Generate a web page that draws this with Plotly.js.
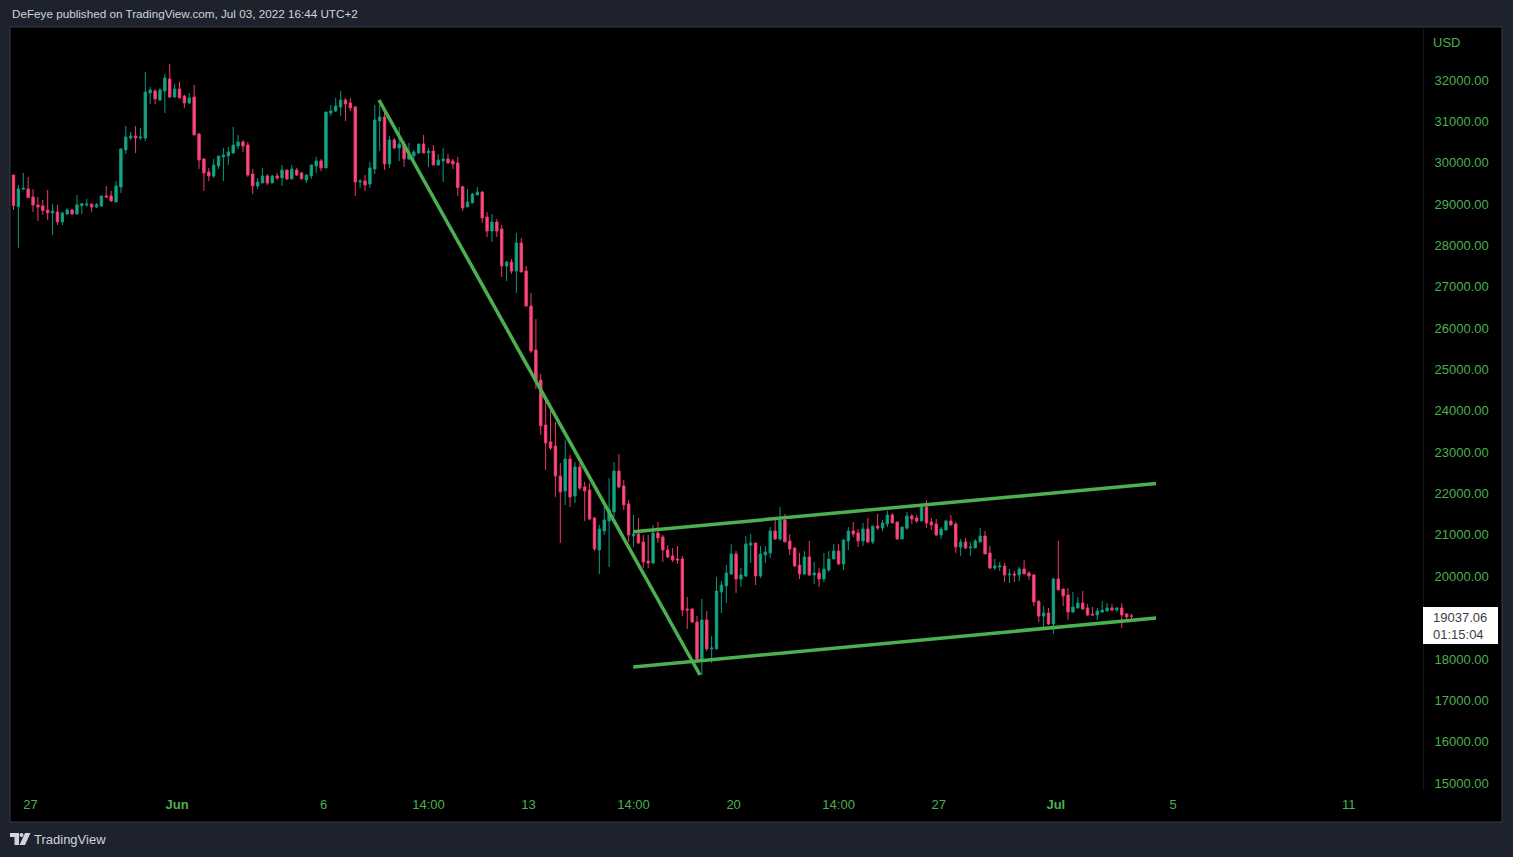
<!DOCTYPE html>
<html>
<head>
<meta charset="utf-8">
<script src="https://cdn.plot.ly/plotly-3.0.1.min.js"></script>
<style>
  html, body { margin: 0; padding: 0; background: #1e222d; }
  #chart { width: 1513px; height: 857px; }
</style>
</head>
<body>
<div id="chart"></div>
<script>
// ---------------- DATA ----------------
// BTCUSD, 4h candles (local time UTC+2), first candle May 26 10:00
const candleStart = '2022-05-26T10:00:00Z';
const candleHours = 4;

const open = [
29703,28938,29357,29365,29171,28978,28954,28857,28785,28809,28567,28760,28857,28760,28962,28978,29002,28930,28954,29196,
29196,29050,29413,30308,30598,30646,30598,30598,31686,31734,31517,31734,32025,31589,31783,31613,31444,31589,30694,30090,
29776,29679,29921,30139,30163,30235,30404,30501,30428,29727,29437,29510,29679,29510,29679,29631,29824,29607,29824,29752,
29582,29679,29921,30042,29873,31202,31250,31347,31517,31444,31347,29534,29558,29485,29848,31009,31105,29969,30549,30356,
30452,30090,30162,30235,30452,30235,30283,29945,30041,30090,30041,29993,29420,28929,29026,29219,29291,28687,28348,28566,
28397,27502,27599,27381,28058,27381,26535,25471,24746,23658,23247,23150,22425,22062,22836,21941,22642,22159,22086,21409,
20635,21095,21337,21554,22546,22183,21748,20974,21022,20829,20369,20321,21046,20950,20635,20490,20418,20418,19208,19208,
18894,18000,18943,18242,18242,19620,19765,20055,20539,19934,20007,20756,20805,20007,20515,20563,21095,20901,21361,20853,
20684,20272,20055,20466,20031,20079,19934,20152,20418,20611,20297,20853,21095,21046,20853,21143,20829,21216,21167,21264,
21482,21312,20901,21167,21458,21409,21337,21675,21312,21264,20998,21119,21337,21264,20708,20829,20684,20684,20829,20974,
20563,20200,20224,20248,20031,20055,20031,20176,20079,20031,19402,19039,19112,18846,19934,19692,19547,19136,19233,19353,
19233,19088,19063,19136,19160,19233,19184,19233,19088,19039
];
const high = [
29703,29462,29752,29655,29357,29171,29099,29341,29002,28978,28809,28905,28881,29220,29018,29123,29002,29026,29196,29437,
29317,29558,30356,30888,30743,30888,30840,32194,31831,31783,31807,32146,32387,31904,31952,31638,31686,31880,30719,30114,
29873,30090,30163,30356,30380,30864,30670,30549,30501,29848,29631,29873,29727,29703,29752,29945,29824,29945,29873,29776,
29703,29945,30139,30090,31226,31396,31565,31734,31565,31565,31371,29607,29703,30018,31396,31400,31274,30646,30597,30863,
30525,30476,30307,30452,30670,30355,30428,30210,30355,30210,30090,30138,29436,29364,29267,29412,29316,28808,28760,28639,
28494,27623,27671,28300,28179,27502,26850,26221,24891,24311,24190,23731,22739,23295,22933,22763,22739,22280,22255,21433,
21240,21748,22377,22763,22957,22328,21845,21482,21409,20998,20998,21240,21312,20998,20756,20684,20732,20490,19499,19233,
19039,19450,19160,18556,19982,19886,20272,20780,20611,20200,20974,21022,20805,20732,20732,21191,21433,21675,21506,21022,
20708,20563,20611,20853,20345,20200,20563,20611,20780,20780,20901,21191,21312,21143,21288,21409,21216,21506,21361,21578,
21530,21312,21191,21554,21506,21482,21724,21845,21409,21385,21191,21361,21482,21312,20901,20925,20829,20901,21167,21095,
20732,20418,20345,20321,20176,20127,20224,20393,20127,20055,19402,19281,19233,19958,20853,19692,19716,19620,19499,19644,
19329,19257,19233,19402,19353,19329,19257,19353,19112,19088
];
const low = [
28857,27946,29349,29155,28808,28591,28736,28615,28253,28494,28494,28736,28736,28760,28760,28930,28809,28906,28930,29147,
29050,29050,29268,30211,30550,30235,30550,30525,31420,31420,31493,31202,31565,31565,31565,31323,31420,30670,29848,29316,
29558,29631,29848,29558,29945,30211,30332,30259,29655,29244,29365,29510,29461,29510,29582,29437,29582,29607,29679,29607,
29510,29607,29752,29800,29873,31129,31226,31129,31009,31250,29195,29389,29316,29389,29727,30284,29824,29872,30331,30041,
29896,30065,30065,30211,30235,29896,29945,29920,29533,29993,29848,29195,28832,28929,29026,29219,28542,28203,28083,28203,
27236,27139,27309,26849,27357,26511,25400,24528,23416,22570,23054,21917,20805,21724,21675,21772,22086,21337,21361,20611,
20055,20998,20224,21433,22135,21603,20829,20708,20781,20200,20200,20297,20805,20345,20442,20345,20297,19039,18725,18870,
17951,17613,18193,17903,18242,19112,19354,20031,19596,19741,19982,20321,19789,19958,20321,20442,20877,20853,20829,20514,
20224,19934,20031,20007,19813,19741,19862,20104,20418,20273,20152,20635,20950,20708,20732,20805,20780,21119,21095,21191,
21288,20877,20901,21119,21264,21288,21337,21167,21119,20974,20901,21119,21240,20563,20490,20659,20490,20684,20829,20539,
20176,20152,20127,19861,19837,19861,19886,20055,19910,19281,18894,18773,18822,18604,19668,19281,18943,19112,19233,19184,
19039,19063,18943,19112,19160,19160,19136,18749,18919,18919
];
const close = [
28962,29365,29380,29155,28978,28930,28841,28785,28833,28567,28785,28857,28760,28978,29010,29002,28930,28986,29196,29171,
29075,29437,30332,30622,30646,30598,30622,31710,31759,31541,31759,32049,31589,31783,31565,31444,31565,30670,30066,29752,
29679,29945,30163,30187,30259,30428,30501,30404,29703,29437,29534,29679,29510,29679,29631,29824,29607,29848,29703,29607,
29703,29945,30042,29873,31226,31250,31371,31517,31420,31323,29534,29558,29461,29873,31033,31105,29969,30549,30356,30452,
30090,30186,30259,30452,30235,30283,29945,30065,30090,29993,29969,29396,28905,29050,29243,29291,28663,28348,28566,28348,
27502,27599,27381,28058,27357,26535,25447,24746,23634,23223,23102,22425,22038,22836,21917,22642,22135,22062,21385,20659,
21143,21361,21603,22546,22159,21724,20998,21022,20805,20345,20321,21046,20925,20635,20466,20394,20394,19184,19184,18894,
18000,18943,18242,18266,19644,19789,20079,20539,19934,20031,20780,20805,20007,20539,20587,21095,20901,21361,20829,20660,
20248,20055,20466,20031,20079,19934,20176,20418,20611,20297,20877,21095,21022,20853,21143,20829,21216,21167,21288,21482,
21288,20901,21191,21458,21385,21337,21675,21288,21240,20998,21143,21337,21240,20708,20829,20684,20708,20853,20974,20539,
20200,20248,20248,20031,20055,20031,20176,20055,20007,19378,19039,19112,18846,19934,19668,19523,19136,19257,19353,19208,
19063,19063,19160,19184,19233,19184,19233,19063,19015,19037
];

// Drawn trend lines (time, price)
const downTrendX = ['2022-06-07 21:27', '2022-06-18 20:28'];
const downTrendY = [31516, 17613];
const channelTopX = ['2022-06-16 13:49', '2022-07-04 10:05'];
const channelTopY = [21078, 22243];
const channelBottomX = ['2022-06-16 13:49', '2022-07-04 10:05'];
const channelBottomY = [17806, 18991];

// Axis ticks
const xTickVals = ['2022-05-27', '2022-06-01', '2022-06-06', '2022-06-09 14:00', '2022-06-13', '2022-06-16 14:00',
                   '2022-06-20', '2022-06-23 14:00', '2022-06-27', '2022-07-01', '2022-07-05', '2022-07-11'];
const xTickText = ['27', '<b>Jun</b>', '6', '14:00', '13', '14:00', '20', '14:00', '27', '<b>Jul</b>', '5', '11'];
const yTickVals = [15000,16000,17000,18000,19000,20000,21000,22000,23000,24000,25000,26000,27000,28000,29000,30000,31000,32000];

const lastPrice = '19037.06';
const countdown = '01:15:04';
const headerText = 'DeFeye published on TradingView.com, Jul 03, 2022 16:44 UTC+2';

// ---------------- BUILD ----------------
function fmt(d) {
  return d.toISOString().slice(0, 16).replace('T', ' ');
}
const t0 = new Date(candleStart).getTime();
const times = open.map((_, i) => fmt(new Date(t0 + i * candleHours * 3600 * 1000)));

const W = 1513, H = 857;
const M = { l: 11, r: 90, t: 28, b: 67 };
const PW = W - M.l - M.r, PH = H - M.t - M.b;
const px = x => (x - M.l) / PW;
const py = y => (H - M.b - y) / PH;

const GREEN_TXT = '#4caf50';
const UP = '#089981', UP_FILL = '#22a77c';
const DN = '#f23670', DN_FILL = '#f7527c';

const traces = [
  {
    type: 'candlestick',
    x: times, open: open, high: high, low: low, close: close,
    increasing: { line: { color: UP, width: 1 }, fillcolor: UP_FILL },
    decreasing: { line: { color: DN, width: 1 }, fillcolor: DN_FILL },
    whiskerwidth: 0,
    hoverinfo: 'skip',
    showlegend: false
  },
  { type: 'scatter', mode: 'lines', x: downTrendX, y: downTrendY,
    line: { color: '#4caf50', width: 3.5 }, hoverinfo: 'skip', showlegend: false },
  { type: 'scatter', mode: 'lines', x: channelTopX, y: channelTopY,
    line: { color: '#4caf50', width: 3.5 }, hoverinfo: 'skip', showlegend: false },
  { type: 'scatter', mode: 'lines', x: channelBottomX, y: channelBottomY,
    line: { color: '#4caf50', width: 3.5 }, hoverinfo: 'skip', showlegend: false }
];

// logo path (pixel coords -> paper)
function pathPx(pts) {
  return 'M' + pts.map(p => px(p[0]).toFixed(5) + ',' + py(p[1]).toFixed(5)).join(' L') + ' Z';
}

const layout = {
  width: W, height: H,
  margin: M,
  paper_bgcolor: '#1e222d',
  plot_bgcolor: '#000000',
  font: { family: 'Liberation Sans, Arial, sans-serif', size: 13, color: GREEN_TXT },
  showlegend: false,
  hovermode: false,
  xaxis: {
    type: 'date',
    range: ['2022-05-26 07:57', '2022-07-13 12:49'],
    rangeslider: { visible: false },
    showgrid: false, zeroline: false, showline: false,
    tickmode: 'array', tickvals: xTickVals, ticktext: xTickText,
    ticks: '', ticklabelstandoff: 5,
    tickfont: { size: 13, color: GREEN_TXT }
  },
  yaxis: {
    side: 'right',
    range: [14832, 33257],
    showgrid: false, zeroline: false,
    showline: true, linecolor: '#14161b', linewidth: 1,
    tickmode: 'array', tickvals: yTickVals, tickformat: '.2f',
    ticks: '', ticklabelstandoff: 8,
    tickfont: { size: 13, color: GREEN_TXT }
  },
  shapes: [
    { type: 'rect', xref: 'paper', yref: 'paper', layer: 'below',
      x0: px(10), x1: px(1502), y0: py(822), y1: py(27),
      fillcolor: '#000000', line: { color: '#363a45', width: 1 } },
    // last price box
    { type: 'rect', xref: 'paper', yref: 'paper', layer: 'above',
      x0: px(1423), x1: px(1498), y0: py(644), y1: py(607),
      fillcolor: '#ffffff', line: { width: 0 } },
    // TradingView logo
    { type: 'path', xref: 'paper', yref: 'paper', layer: 'above',
      path: pathPx([[10, 833], [19, 833], [19, 845], [14.5, 845], [14.5, 837], [10, 837]]),
      fillcolor: '#d1d4dc', line: { width: 0 } },
    { type: 'circle', xref: 'paper', yref: 'paper', layer: 'above',
      x0: px(19.5), x1: px(23.5), y0: py(837), y1: py(833),
      fillcolor: '#d1d4dc', line: { width: 0 } },
    { type: 'path', xref: 'paper', yref: 'paper', layer: 'above',
      path: pathPx([[25, 833], [30.5, 833], [25, 845], [19.5, 845]]),
      fillcolor: '#d1d4dc', line: { width: 0 } }
  ],
  annotations: [
    { xref: 'paper', yref: 'paper', x: px(10), y: py(14), xanchor: 'left', yanchor: 'middle',
      text: headerText, showarrow: false,
      font: { size: 11.7, color: '#d1d4dc', family: 'Liberation Sans, Arial, sans-serif' } },
    { xref: 'paper', yref: 'paper', x: px(1431), y: py(42), xanchor: 'left', yanchor: 'middle',
      text: 'USD', showarrow: false, font: { size: 13, color: GREEN_TXT } },
    { xref: 'paper', yref: 'paper', x: px(1431), y: py(617.5), xanchor: 'left', yanchor: 'middle',
      text: lastPrice, showarrow: false, font: { size: 13, color: '#3a3e48' } },
    { xref: 'paper', yref: 'paper', x: px(1431), y: py(634), xanchor: 'left', yanchor: 'middle',
      text: countdown, showarrow: false, font: { size: 13, color: '#3a3e48' } },
    { xref: 'paper', yref: 'paper', x: px(32), y: py(839), xanchor: 'left', yanchor: 'middle',
      text: 'TradingView', showarrow: false,
      font: { size: 13, color: '#d1d4dc', family: 'Liberation Sans, Arial, sans-serif' } }
  ]
};

Plotly.newPlot('chart', traces, layout, { displayModeBar: false, staticPlot: true });
</script>
</body>
</html>
